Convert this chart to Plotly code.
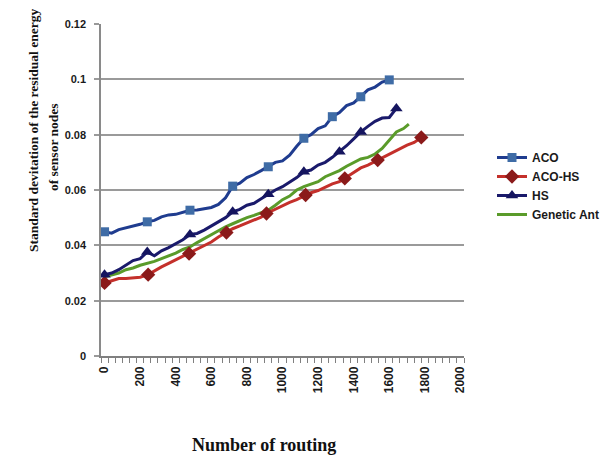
import plotly.graph_objects as go

# ---------------- data ----------------
x_tick_vals = [0, 200, 400, 600, 800, 1000, 1200, 1400, 1600, 1800, 2000]
x_tick_text = ["0", "200", "400", "600", "800", "1000", "1200", "1400", "1600", "1800", "2000"]
y_tick_vals = [0, 0.02, 0.04, 0.06, 0.08, 0.1, 0.12]
y_tick_text = ["0", "0.02", "0.04", "0.06", "0.08", "0.1", "0.12"]

aco_x = [0, 40, 80, 120, 160, 200, 240, 280, 320, 360, 400, 440, 480, 520, 560, 600, 640, 680, 720,
         760, 800, 840, 880, 920, 960, 1000, 1040, 1080, 1120, 1160, 1200, 1240, 1280, 1320, 1360,
         1400, 1440, 1480, 1520, 1560, 1600]
aco_y = [0.0449, 0.0444, 0.0457, 0.0463, 0.0470, 0.0476, 0.0485, 0.0490, 0.0503, 0.0510, 0.0512,
         0.0520, 0.0527, 0.0528, 0.0533, 0.0537, 0.0548, 0.0572, 0.0614, 0.0625, 0.0645, 0.0656,
         0.0670, 0.0684, 0.0700, 0.0705, 0.0726, 0.0758, 0.0787, 0.0800, 0.0822, 0.0832, 0.0865,
         0.0880, 0.0905, 0.0915, 0.0937, 0.0962, 0.0972, 0.0990, 0.0998]
aco_mx = [0, 240, 480, 720, 920, 1120, 1280, 1440, 1600]
aco_my = [0.0449, 0.0485, 0.0527, 0.0614, 0.0684, 0.0787, 0.0865, 0.0937, 0.0998]

hs_x = [0, 40, 80, 120, 160, 200, 240, 280, 320, 360, 400, 440, 480, 520, 560, 600, 640, 680, 720,
        760, 800, 840, 880, 920, 960, 1000, 1040, 1080, 1120, 1160, 1200, 1240, 1280, 1320, 1360,
        1400, 1440, 1480, 1520, 1560, 1600, 1640]
hs_y = [0.0294, 0.0300, 0.0312, 0.0328, 0.0345, 0.0352, 0.0376, 0.0362, 0.0380, 0.0392, 0.0405,
        0.0420, 0.0439, 0.0443, 0.0455, 0.0470, 0.0482, 0.0500, 0.0521, 0.0530, 0.0545, 0.0552,
        0.0568, 0.0585, 0.0600, 0.0612, 0.0628, 0.0645, 0.0666, 0.0672, 0.0690, 0.0700, 0.0718,
        0.0738, 0.0760, 0.0785, 0.0810, 0.0830, 0.0848, 0.0860, 0.0862, 0.0895]
hs_mx = [0, 240, 480, 720, 920, 1120, 1320, 1440, 1640]
hs_my = [0.0294, 0.0376, 0.0439, 0.0521, 0.0585, 0.0666, 0.0738, 0.0810, 0.0895]

acohs_x = [0, 40, 80, 120, 160, 200, 245, 280, 320, 360, 400, 440, 475, 520, 560, 600, 640, 685,
           720, 760, 800, 840, 880, 910, 960, 1000, 1040, 1080, 1130, 1160, 1200, 1240, 1280, 1320,
           1350, 1400, 1440, 1480, 1535, 1580, 1620, 1660, 1700, 1740, 1780]
acohs_y = [0.0264, 0.0272, 0.0280, 0.0280, 0.0282, 0.0285, 0.0294, 0.0308, 0.0322, 0.0335, 0.0348,
           0.0358, 0.0370, 0.0385, 0.0398, 0.0412, 0.0430, 0.0446, 0.0460, 0.0470, 0.0480, 0.0490,
           0.0502, 0.0515, 0.0530, 0.0545, 0.0555, 0.0565, 0.0582, 0.0590, 0.0598, 0.0610, 0.0622,
           0.0630, 0.0642, 0.0665, 0.0680, 0.0690, 0.0708, 0.0720, 0.0733, 0.0748, 0.0762, 0.0772,
           0.0790]
acohs_mx = [0, 245, 475, 685, 910, 1130, 1350, 1535, 1780]
acohs_my = [0.0264, 0.0294, 0.0370, 0.0446, 0.0515, 0.0582, 0.0642, 0.0708, 0.0790]

ga_x = [0, 40, 80, 120, 160, 200, 240, 280, 320, 360, 400, 440, 480, 520, 560, 600, 640, 680, 720,
        760, 800, 840, 880, 920, 960, 1000, 1040, 1080, 1120, 1160, 1200, 1240, 1280, 1320, 1360,
        1400, 1440, 1480, 1520, 1560, 1600, 1640, 1680, 1710]
ga_y = [0.0286, 0.0292, 0.0300, 0.0312, 0.0318, 0.0328, 0.0334, 0.0342, 0.0352, 0.0362, 0.0372,
        0.0385, 0.0394, 0.0410, 0.0425, 0.0440, 0.0455, 0.0467, 0.0478, 0.0490, 0.0500, 0.0508,
        0.0518, 0.0527, 0.0545, 0.0565, 0.0578, 0.0600, 0.0612, 0.0620, 0.0630, 0.0648, 0.0658,
        0.0670, 0.0686, 0.0700, 0.0712, 0.0718, 0.0730, 0.0750, 0.0780, 0.0810, 0.0822, 0.0838]

series_names = ["ACO", "ACO-HS", "HS", "Genetic Ant"]

# ---------------- figure ----------------
W, H = 601, 457
L, R, T, B = 101, 137, 24, 101
PW, PH = W - L - R, H - T - B

def px_x(px):
    return (px - L) / PW

def px_y(py):
    return (H - B - py) / PH

fig = go.Figure()

styles = {
    "ACO": dict(line="#1f3c8f", marker="#3f6ca6", symbol="square", size=9),
    "ACO-HS": dict(line="#c4302b", marker="#8b1a1a", symbol="diamond", size=11),
    "HS": dict(line="#1a1a6b", marker="#15155f", symbol="triangle-up", size=11),
    "Genetic Ant": dict(line="#5a9b2a", marker=None, symbol=None, size=0),
}
lines = {"ACO": (aco_x, aco_y), "ACO-HS": (acohs_x, acohs_y), "HS": (hs_x, hs_y),
         "Genetic Ant": (ga_x, ga_y)}
marks = {"ACO": (aco_mx, aco_my), "ACO-HS": (acohs_mx, acohs_my), "HS": (hs_mx, hs_my)}

draw_order = ["Genetic Ant", "ACO-HS", "HS", "ACO"]
for name in draw_order:
    st = styles[name]
    lx, ly = lines[name]
    fig.add_trace(go.Scatter(x=lx, y=ly, mode="lines", showlegend=False, hoverinfo="skip",
                             line=dict(color=st["line"], width=3)))
    if name in marks:
        mx, my = marks[name]
        fig.add_trace(go.Scatter(x=mx, y=my, mode="markers", showlegend=False,
                                 marker=dict(symbol=st["symbol"], size=st["size"],
                                             color=st["marker"])))

# legend entries
for name in series_names:
    st = styles[name]
    if st["symbol"]:
        fig.add_trace(go.Scatter(x=[None], y=[None], mode="lines+markers", name=name,
                                 line=dict(color=st["line"], width=3),
                                 marker=dict(symbol=st["symbol"], size=st["size"],
                                             color=st["marker"])))
    else:
        fig.add_trace(go.Scatter(x=[None], y=[None], mode="lines", name=name,
                                 line=dict(color=st["line"], width=3)))

fig.update_layout(
    width=W, height=H,
    margin=dict(l=L, r=R, t=T, b=B, pad=0),
    paper_bgcolor="white", plot_bgcolor="white",
    showlegend=True,
    legend=dict(xref="container", yref="container", x=492 / W, y=1 - 143 / H,
                xanchor="left", yanchor="top",
                bgcolor="rgba(0,0,0,0)", itemwidth=30, tracegroupgap=0,
                font=dict(family="Liberation Sans Narrow, Arial Narrow, Liberation Sans, Arial",
                          size=12, color="#1a1a1a", weight="bold")),
    xaxis=dict(range=[-20, 2020], tickmode="array", tickvals=x_tick_vals, ticktext=x_tick_text,
               tickangle=-90, tickfont=dict(family="Liberation Sans, Arial", size=12,
                                            color="#1a1a1a", weight="bold"),
               showgrid=False, zeroline=False, showline=True, linecolor="#808080", linewidth=1.5,
               ticks="", ticklabelstandoff=4, automargin=False,
               minor=dict(ticks="outside", ticklen=5, tickcolor="#808080", tickwidth=1,
                          tick0=-20, dtick=40, showgrid=False)),
    yaxis=dict(range=[0, 0.12], tickmode="array", tickvals=y_tick_vals, ticktext=y_tick_text,
               tickfont=dict(family="Liberation Sans, Arial", size=11, color="#1a1a1a",
                             weight="bold"),
               showgrid=True, gridcolor="#9a9a9a", gridwidth=1.5, zeroline=False,
               showline=True, linecolor="#8a8a8a", linewidth=1.5,
               ticks="outside", ticklen=5, tickcolor="#9a9a9a", tickwidth=1.5,
               ticklabelstandoff=6, automargin=False),
    annotations=[
        dict(text="Standard devitation of the residual energy", xref="paper", yref="paper",
             x=px_x(33), y=px_y(131), xanchor="center", yanchor="middle", textangle=-90,
             showarrow=False, font=dict(family="Liberation Serif, Times New Roman", size=13.5,
                                        color="#111111", weight="bold")),
        dict(text="of sensor nodes", xref="paper", yref="paper",
             x=px_x(53), y=px_y(147), xanchor="center", yanchor="middle", textangle=-90,
             showarrow=False, font=dict(family="Liberation Serif, Times New Roman", size=13.5,
                                        color="#111111", weight="bold")),
        dict(text="Number of routing", xref="paper", yref="paper",
             x=px_x(264), y=px_y(445), xanchor="center", yanchor="middle",
             showarrow=False, font=dict(family="Liberation Serif, Times New Roman", size=18,
                                        color="#111111", weight="bold")),
    ],
)

fig.write_html("out.html", config={"displayModeBar": False},
               post_script="document.body.style.margin='0';")
